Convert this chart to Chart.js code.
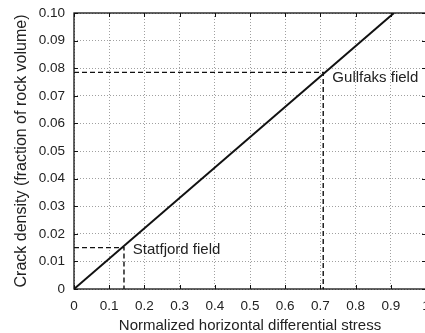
<!DOCTYPE html>
<html><head><meta charset="utf-8">
<script src="https://cdn.jsdelivr.net/npm/chart.js@4/dist/chart.umd.min.js"></script>
<style>html,body{margin:0;padding:0;overflow:hidden;background:#fff}#wrap{position:relative;width:440px;height:333px}</style>
</head><body><div id="wrap"><canvas id="c"></canvas></div>
<script>
// Data
const trendX = [0, 0.909];
const trendY = [0, 0.1];
const fieldNames = ['Statfjord field', 'Gullfaks field'];
const fieldStress = [0.142, 0.708];
const fieldDensity = [0.015, 0.0785];
const labelX = [0.167, 0.734];
const labelY = [0.0141, 0.0766];
const xTicks = [0,0.1,0.2,0.3,0.4,0.5,0.6,0.7,0.8,0.9,1];
const yTicks = [0,0.01,0.02,0.03,0.04,0.05,0.06,0.07,0.08,0.09,0.10];
const xTickLabels = ['0','0.1','0.2','0.3','0.4','0.5','0.6','0.7','0.8','0.9','1'];
const yTickLabels = ['0','0.01','0.02','0.03','0.04','0.05','0.06','0.07','0.08','0.09','0.10'];

const FONT = "'Liberation Sans', Arial, Helvetica, sans-serif";
const TXT = '#222';

const datasets = [{
  data: trendX.map((x,i)=>({x, y: trendY[i]})),
  borderColor: '#111', borderWidth: 2, pointRadius: 0, showLine: true, fill: false, order: 0
}];
fieldNames.forEach((n,i)=>{
  datasets.push({
    data: [{x:0,y:fieldDensity[i]},{x:fieldStress[i],y:fieldDensity[i]},{x:fieldStress[i],y:0}],
    borderColor:'#111', borderWidth:1.4, borderDash:[5,3], pointRadius:0, showLine:true, fill:false, order:1
  });
});

const boxPlugin = {
  id:'box',
  afterDraw(chart){
    const {ctx, chartArea:a, scales:{x,y}} = chart;
    ctx.save();
    ctx.strokeStyle = '#111'; ctx.lineWidth = 1;
    const L = 4;
    ctx.beginPath();
    xTicks.forEach(v=>{const p=Math.round(x.getPixelForValue(v))+0.5;
      ctx.moveTo(p,a.bottom); ctx.lineTo(p,a.bottom-L);
      ctx.moveTo(p,a.top); ctx.lineTo(p,a.top+L);});
    yTicks.forEach(v=>{const p=Math.round(y.getPixelForValue(v))+0.5;
      ctx.moveTo(a.left,p); ctx.lineTo(a.left+L,p);
      ctx.moveTo(a.right,p); ctx.lineTo(a.right-L,p);});
    ctx.stroke();
    ctx.lineWidth = 1.3;
    ctx.strokeRect(a.left, a.top, a.right-a.left, a.bottom-a.top);
    ctx.fillStyle = TXT; ctx.font = '15px ' + FONT;
    ctx.textBaseline = 'middle'; ctx.textAlign = 'left';
    fieldNames.forEach((n,i)=>{
      ctx.fillText(n, x.getPixelForValue(labelX[i]), y.getPixelForValue(labelY[i]));
    });
    ctx.restore();
  }
};

new Chart(document.getElementById('c'), {
  type:'scatter',
  data:{datasets},
  options:{
    responsive:true, maintainAspectRatio:false, animation:false,
    layout:{padding:{top:0,right:14,left:0,bottom:0}},
    plugins:{legend:{display:false},tooltip:{enabled:false}},
    scales:{
      x:{type:'linear',min:0,max:1,
        afterBuildTicks(s){s.ticks = xTicks.map(v=>({value:v}));},
        afterFit(s){s.height=44;},
        border:{display:false,dash:[1,2]},
        grid:{color:'#a0a0a0',lineWidth:1,drawTicks:false},
        ticks:{padding:9,color:TXT,font:{family:FONT,size:13.5},maxRotation:0,autoSkip:false,
          callback:(v,i)=>xTickLabels[i]},
        title:{display:true,text:'Normalized horizontal differential stress',color:TXT,
          font:{family:FONT,size:15},padding:{top:0,bottom:-2}}
      },
      y:{type:'linear',min:0,max:0.1,
        afterBuildTicks(s){s.ticks = yTicks.map(v=>({value:v}));},
        afterFit(s){s.width=74; s.paddingTop = 13;},
        border:{display:false,dash:[1,2]},
        grid:{color:'#a0a0a0',lineWidth:1,drawTicks:false},
        ticks:{padding:9,color:TXT,font:{family:FONT,size:13.5},autoSkip:false,
          callback:(v,i)=>yTickLabels[i]},
        title:{display:true,text:'Crack density (fraction of rock volume)',color:TXT,
          font:{family:FONT,size:16},padding:{top:12,bottom:0}}
      }
    }
  },
  plugins:[boxPlugin]
});
</script></body></html>
